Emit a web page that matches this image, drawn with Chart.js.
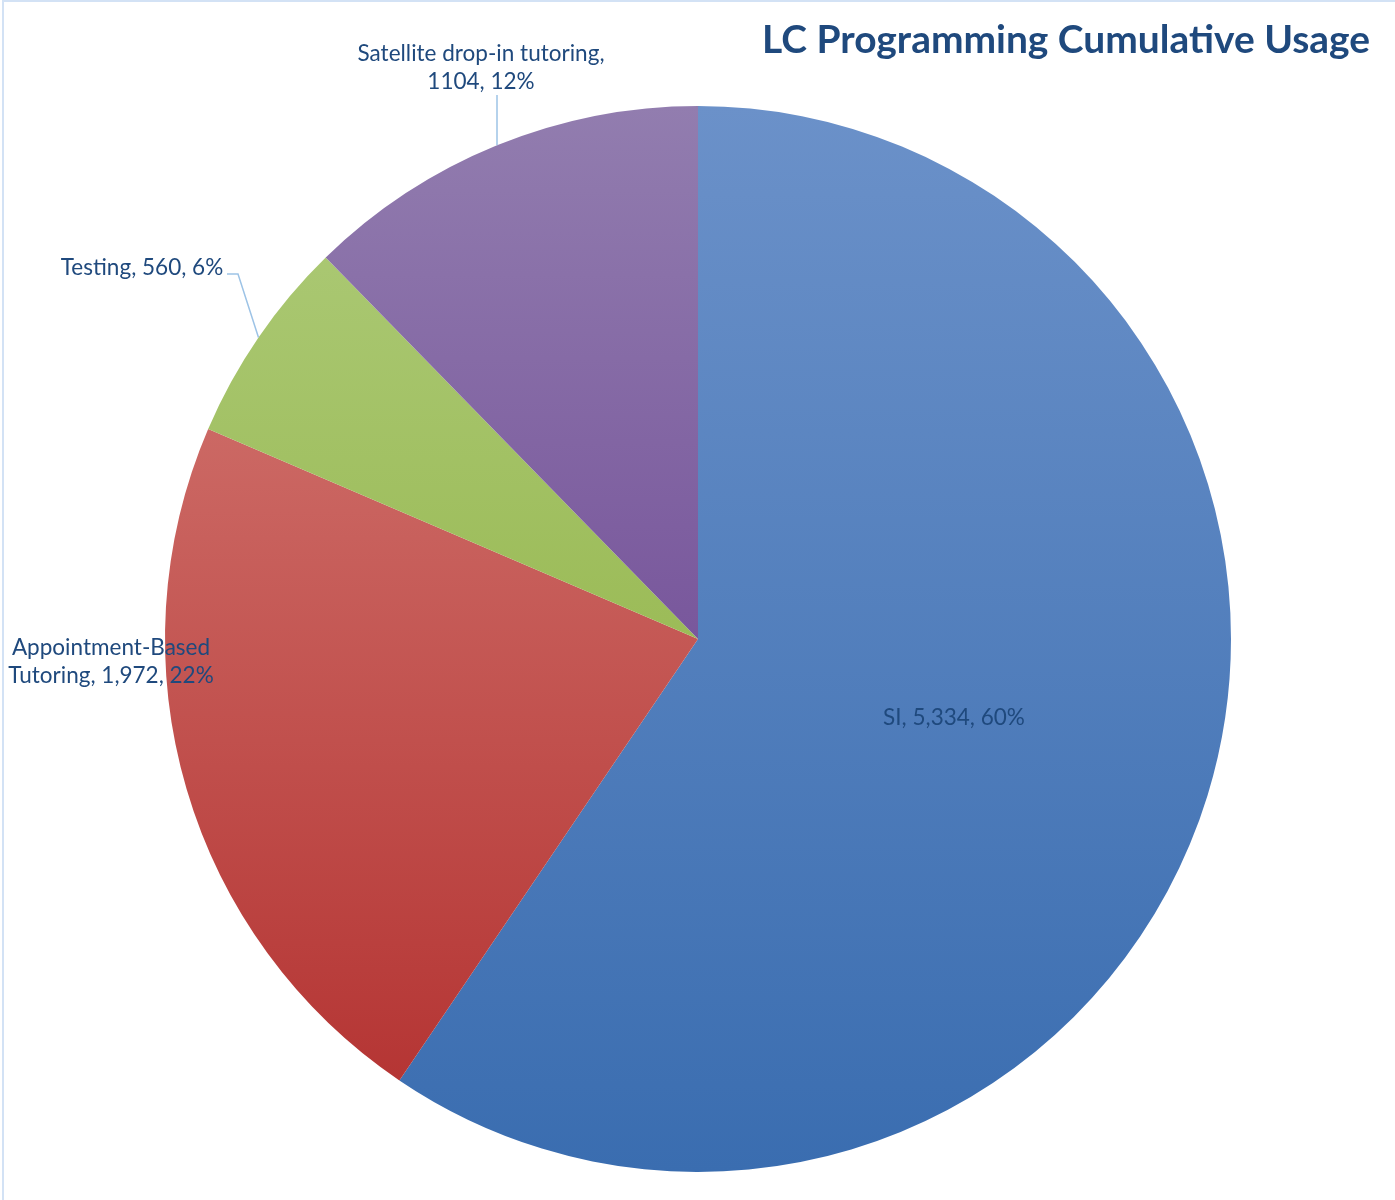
<!DOCTYPE html>
<html>
<head>
<meta charset="utf-8">
<script src="https://cdn.jsdelivr.net/npm/chart.js@4"></script>
<style>
  html, body { margin: 0; padding: 0; background: #fff; }
</style>
</head>
<body>
<canvas id="myChart" width="1395" height="1200"></canvas>
<script>
// values
const categories = ['SI', 'Appointment-Based Tutoring', 'Testing', 'Satellite drop-in tutoring'];
const usage = [5334, 1972, 560, 1104];
const usageText = ['5,334', '1,972', '560', '1104'];
const shareText = ['60%', '22%', '6%', '12%'];

// top / bottom shades of each slice gradient
const topColors = ['#6B91C9', '#D7827C', '#AFCC7C', '#927DAF'];
const bottomColors = ['#3A6DB0', '#B22E2D', '#88AB33', '#5F3189'];

const TEXT_COLOR = '#1F497D';
const LEADER_COLOR = '#9DC3E6';

// where each label sits (baselines, centre x) and how many words go on line one
const labelLayout = [
  { x: 954, y: [725], firstLine: 99, leader: null },
  { x: 111, y: [655, 683], firstLine: 1, leader: null },
  { x: 142, y: [275], firstLine: 99, leader: [[227, 274], [238, 274]] },
  { x: 481, y: [61, 89], firstLine: 3, leader: [[497, 95]] },
];

function sliceFill(ctx) {
  const i = ctx.dataIndex;
  const area = ctx.chart.chartArea;
  if (!area) return topColors[i];
  const g = ctx.chart.ctx.createLinearGradient(0, area.top, 0, area.bottom);
  g.addColorStop(0, topColors[i]);
  g.addColorStop(1, bottomColors[i]);
  return g;
}

function drawSqueezed(c, text, x, y, squeeze) {
  c.save();
  c.translate(x, y);
  c.scale(squeeze, 1);
  c.fillText(text, 0, 0);
  c.restore();
}

const labelsPlugin = {
  id: 'excelLabels',
  afterDatasetsDraw(chart) {
    const c = chart.ctx;
    const arcs = chart.getDatasetMeta(0).data;

    // chart frame
    c.save();
    c.strokeStyle = '#D3E2F5';
    c.lineWidth = 2;
    c.beginPath();
    c.moveTo(3, 1200);
    c.lineTo(3, 1);
    c.lineTo(1395, 1);
    c.stroke();
    c.restore();

    // title
    c.save();
    c.fillStyle = TEXT_COLOR;
    c.font = 'bold 39px Lato';
    c.textAlign = 'left';
    c.textBaseline = 'alphabetic';
    const title = 'LC Programming Cumulative Usage';
    const tsq = 608 / c.measureText(title).width;
    drawSqueezed(c, title, 762, 53, tsq);
    c.restore();

    // data labels
    c.save();
    c.font = '23px Lato';
    c.fillStyle = TEXT_COLOR;
    c.textAlign = 'center';
    c.textBaseline = 'alphabetic';
    const sq = 247 / c.measureText('Satellite drop-in tutoring,').width;
    arcs.forEach((arc, i) => {
      const lay = labelLayout[i];
      const words = `${categories[i]}, ${usageText[i]}, ${shareText[i]}`.split(' ');
      const lines = [words.slice(0, lay.firstLine).join(' ')];
      if (words.length > lay.firstLine) lines.push(words.slice(lay.firstLine).join(' '));
      lines.forEach((ln, k) => drawSqueezed(c, ln, lay.x, lay.y[k], sq));

      if (lay.leader) {
        const mid = (arc.startAngle + arc.endAngle) / 2;
        const ex = arc.x + Math.cos(mid) * arc.outerRadius;
        const ey = arc.y + Math.sin(mid) * arc.outerRadius;
        c.save();
        c.strokeStyle = LEADER_COLOR;
        c.lineWidth = 1.5;
        c.beginPath();
        c.moveTo(lay.leader[0][0], lay.leader[0][1]);
        lay.leader.slice(1).forEach(p => c.lineTo(p[0], p[1]));
        c.lineTo(ex, ey);
        c.stroke();
        c.restore();
      }
    });
    c.restore();
  },
};

const myChart = new Chart('myChart', {
  type: 'pie',
  data: {
    labels: categories,
    datasets: [{
      data: usage,
      backgroundColor: sliceFill,
      borderWidth: 0,
    }],
  },
  options: {
    responsive: false,
    animation: false,
    layout: { padding: { left: 165, right: 164, top: 106, bottom: 28 } },
    plugins: {
      legend: { display: false },
      tooltip: { enabled: false },
    },
  },
  plugins: [labelsPlugin],
});
</script>
</body>
</html>
